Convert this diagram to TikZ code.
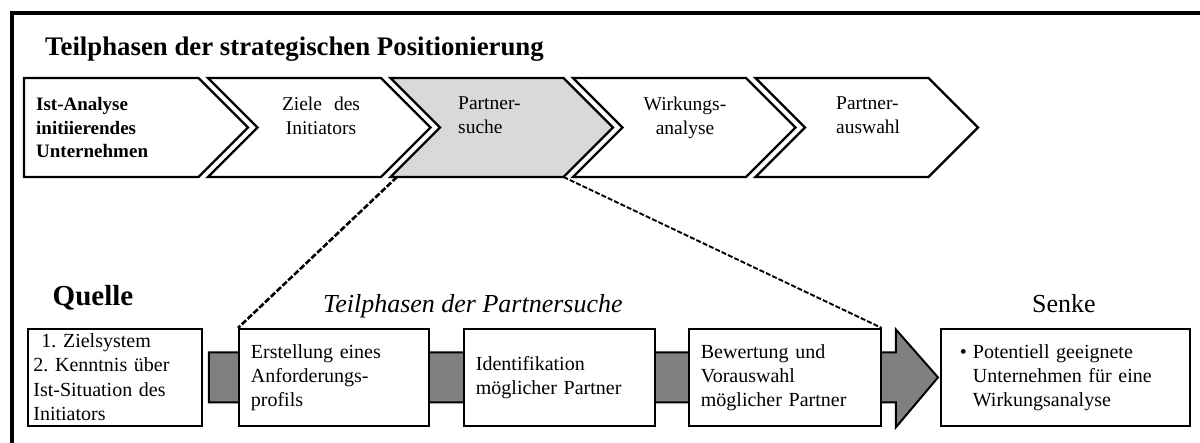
\documentclass[tikz,border=0pt]{standalone}
\usepackage{fontspec}
\setmainfont{Liberation Serif}
\usetikzlibrary{calc}

\definecolor{phasegray}{HTML}{D9D9D9}
\definecolor{flowgray}{HTML}{808080}

\pgfdeclarelayer{background}
\pgfsetlayers{background,main}

\tikzset{
  frameline/.style={line width=4pt, line join=miter},
  chev/.style={draw=black, line width=2.3pt, line join=miter},
  chevtext/.style={inner sep=0pt, font=\fontsize{19.5}{24}\selectfont},
  stagebox/.style={draw=black, line width=1.8pt, fill=white, anchor=north west,
    minimum height=97pt, inner ysep=0pt, align=left,
    font=\fontsize{20}{24}\selectfont},
  flowarrow/.style={draw=black, line width=2pt, fill=flowgray, line join=miter},
  zoomlink/.style={dash pattern=on 6pt off 2pt, line width=2.6pt},
  zoomlinkthin/.style={dash pattern=on 5pt off 2pt, line width=1.9pt},
}

% one phase of the upper chain: left x, fill colour
\newcommand\phasechevron[2]{%
  \draw[chev, fill=#2] (#1,78) -- ++(173,0) -- ++(49.5,49.5) -- ++(-49.5,49.5)
    -- ++(-173,0) -- ++(49.5,-49.5) -- cycle;}

\begin{document}
\begin{tikzpicture}[x=1pt, y=-1pt]
\useasboundingbox (0,0) rectangle (1200,443);

% outer frame (left and top edge)
\draw[frameline] (11.5,443) -- (11.5,13) -- (1200,13);

% heading
\node[anchor=base west, inner sep=0pt, font=\fontsize{26.8}{30}\selectfont\bfseries]
  (title) at (45,56) {Teilphasen der strategischen Positionierung};

% upper chain of phases
\draw[chev, fill=white] (24,78) -- (198.5,78) -- (248,127.5) -- (198.5,177) -- (24,177) -- cycle;
\phasechevron{208}{white}
\phasechevron{390.5}{phasegray}
\phasechevron{573}{white}
\phasechevron{755.5}{white}
\coordinate (zoomL) at (397,177);
\coordinate (zoomR) at (563.5,177);

\node[chevtext, anchor=west, align=left, font=\fontsize{19}{23.5}\selectfont\bfseries]
  (ph1) at (36,128) {Ist-Analyse\\initiierendes\\Unternehmen};
\node[chevtext, anchor=north, align=center] (ph2) at (321,96.5) {\makebox[78pt][s]{Ziele des}\\Initiators};
\node[chevtext, anchor=north west, align=left] (ph3) at (458,96.5) {Partner-\\suche};
\node[chevtext, anchor=north, align=center] (ph4) at (685,96.5) {Wirkungs-\\analyse};
\node[chevtext, anchor=north west, align=left] (ph5) at (836,96.5) {Partner-\\auswahl};

% labels of the lower row
\node[anchor=base, inner sep=0pt, font=\fontsize{29}{32}\selectfont\bfseries]
  (qlabel) at (93,306) {Quelle};
\node[anchor=base west, inner sep=0pt, font=\fontsize{26}{30}\selectfont\itshape]
  (sublabel) at (323,313) {Teilphasen der Partnersuche};
\node[anchor=base, inner sep=0pt, font=\fontsize{26}{30}\selectfont]
  (slabel) at (1064,313) {Senke};

% boxes of the lower row
\node[stagebox, text width=163pt, inner xsep=5.5pt, font=\fontsize{20}{24.5}\selectfont]
  (quelle) at (27,328)
  {\hspace*{8pt}1.\ Zielsystem\\2.\ Kenntnis über\\Ist-Situation des\\Initiators};
\node[stagebox, text width=166pt, inner xsep=12pt] (erst) at (238,328)
  {Erstellung eines\\Anforderungs-\\profils};
\node[stagebox, text width=167pt, inner xsep=12pt] (ident) at (463,328)
  {Identifikation\\möglicher Partner};
\node[stagebox, text width=168pt, inner xsep=12pt] (bew) at (688,328)
  {Bewertung und\\Vorauswahl\\möglicher Partner};
\node[stagebox, text width=211pt, inner xsep=19pt] (senke) at (940,328)
  {\makebox[13pt][l]{\textbullet}Potentiell geeignete\\\hspace*{13pt}Unternehmen für eine\\\hspace*{13pt}Wirkungsanalyse};

% flow arrow from the source to the sink, behind the stage boxes
\coordinate (tail) at ($(quelle.east)+(6,0)$);
\coordinate (head) at ($(bew.east)+(14,0)$);
\coordinate (tip) at ($(senke.west)+(-2,0)$);
\begin{pgfonlayer}{background}
\draw[flowarrow] ($(tail)+(0,-25)$) -- ($(head)+(0,-25)$) -- ($(head)+(0,-48)$)
  -- (tip) -- ($(head)+(0,50)$) -- ($(head)+(0,25)$) -- ($(tail)+(0,25)$) -- cycle;
\end{pgfonlayer}

% zoom lines from the highlighted phase
\draw[zoomlink] (zoomL) -- (erst.north west);
\draw[zoomlinkthin] (zoomR) -- (bew.north east);
\end{tikzpicture}
\end{document}
